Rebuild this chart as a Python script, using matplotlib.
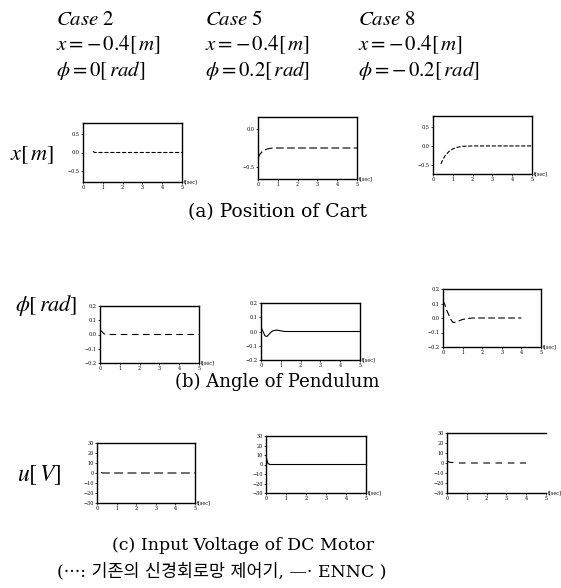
import matplotlib
matplotlib.use("Agg")
import matplotlib.pyplot as plt

plt.rcParams['font.family'] = ['DejaVu Serif', 'Noto Sans CJK KR']
plt.rcParams['mathtext.fontset'] = 'stix'

W, H = 561, 588

# case headers
case_names = ["Case 2", "Case 5", "Case 8"]
case_x0 = ["-0.4", "-0.4", "-0.4"]
case_phi0 = ["0", "0.2", "-0.2"]

# time samples [sec]
t = [0.0, 0.1, 0.2, 0.3, 0.4, 0.5, 0.6, 0.8, 1.0, 1.2, 1.5, 2.0, 2.5, 3.0, 3.5, 4.0, 4.5, 5.0]

# (a) position of cart [m]
x_case2 = [None, None, None, None, None, 0.03, 0.0, 0.0, 0.0, 0.0, 0.0, 0.0, 0.0, 0.0, 0.0, 0.0, 0.0, 0.0]
x_case5 = [-0.38, -0.33, -0.30, -0.28, -0.27, -0.26, -0.255, -0.25, -0.25, -0.25, -0.25, -0.25, -0.25, -0.25, -0.25, -0.25, -0.25, -0.25]
x_case8 = [None, None, None, None, -0.48, -0.36, -0.27, -0.15, -0.08, -0.04, -0.01, 0.0, 0.0, 0.0, 0.0, 0.0, 0.0, 0.0]

# (b) angle of pendulum [rad]
phi_case2 = [0.03, 0.02, 0.005, 0.0, 0.0, 0.0, 0.0, 0.0, 0.0, 0.0, 0.0, 0.0, 0.0, 0.0, 0.0, 0.0, 0.0, 0.0]
phi_case5 = [0.03, 0.0, -0.03, -0.035, -0.02, -0.005, 0.005, 0.01, 0.005, 0.0, 0.0, 0.0, 0.0, 0.0, 0.0, 0.0, 0.0, 0.0]
phi_case8 = [0.12, 0.09, 0.05, 0.02, -0.01, -0.03, -0.03, -0.02, -0.01, -0.005, 0.0, 0.0, 0.0, 0.0, 0.0, 0.0, None, None]

# (c) input voltage [V]
u_case2 = [None, None, 0.5, 0.0, 0.0, 0.0, 0.0, 0.0, 0.0, 0.0, 0.0, 0.0, 0.0, 0.0, 0.0, 0.0, 0.0, 0.0]
u_case5 = [8.0, 1.0, 0.0, 0.0, 0.0, 0.0, 0.0, 0.0, 0.0, 0.0, 0.0, 0.0, 0.0, 0.0, 0.0, 0.0, 0.0, 0.0]
u_case8 = [2.0, 1.0, 0.5, 0.5, 0.0, 0.0, 0.0, 0.0, 0.0, 0.0, 0.0, 0.0, 0.0, 0.0, 0.0, 0.0, None, None]

rows = [
    [x_case2, x_case5, x_case8],
    [phi_case2, phi_case5, phi_case8],
    [u_case2, u_case5, u_case8],
]
ylims = [
    [(-0.8, 0.8), (-0.65, 0.15), (-0.75, 0.8)],
    [(-0.2, 0.2), (-0.2, 0.2), (-0.2, 0.2)],
    [(-30, 30), (-30, 30), (-30, 30)],
]
yticks = [
    [[-0.5, 0, 0.5], [-0.5, 0], [-0.5, 0, 0.5]],
    [[-0.2, -0.1, 0, 0.1, 0.2]] * 3,
    [[-30, -20, -10, 0, 10, 20, 30]] * 3,
]
styles = [
    ["--", (0, (7, 3)), "--"],
    [(0, (6, 4)), "-", (0, (6, 3))],
    [(0, (8, 4)), "-", (0, (6, 5))],
]
# axes boxes in pixels: left, top, right, bottom
boxes = [
    [(83, 123, 182, 182), (258, 117, 357, 179), (433, 116, 532, 174)],
    [(100, 306, 199, 363), (261, 303, 360, 360), (443, 289, 541, 347)],
    [(97, 443, 195, 503), (266, 436, 366, 493), (447, 433, 546, 493)],
]

fig = plt.figure(figsize=(W / 100, H / 100), dpi=100)


def px(x, y):
    return x / W, 1 - y / H


for r in range(3):
    for c in range(3):
        l, tp, rt, bt = boxes[r][c]
        ax = fig.add_axes([l / W, 1 - bt / H, (rt - l) / W, (bt - tp) / H])
        tt = [a for a, b in zip(t, rows[r][c]) if b is not None]
        vv = [b for b in rows[r][c] if b is not None]
        ax.plot(tt, vv, color="black", lw=0.8, linestyle=styles[r][c])
        ax.set_xlim(0, 5)
        ax.set_ylim(*ylims[r][c])
        ax.set_xticks([0, 1, 2, 3, 4, 5])
        ax.set_yticks(yticks[r][c])
        ax.tick_params(labelsize=3.5, length=1.5, width=0.5, pad=1)
        for s in ax.spines.values():
            s.set_linewidth(1.0)
        if r == 2 and c == 2:
            ax.spines["right"].set_visible(False)
        ax.text(1.02, 0.0, "t[sec]", transform=ax.transAxes, fontsize=3.5,
                va="center", ha="left")

# header text
for i, cx in enumerate([56, 205, 358]):
    fig.text(*px(cx, 20), "$Case$ " + case_names[i].split()[1], fontsize=15, va="center",
             family="STIXGeneral")
    fig.text(*px(cx, 45), "$x = " + case_x0[i].replace("-", "-\\,") + "[\\,m]$",
             fontsize=15, va="center")
    fig.text(*px(cx, 71), "$\\phi = " + case_phi0[i].replace("-", "-\\,") + "[\\,rad]$",
             fontsize=15, va="center")

# row labels
fig.text(*px(10, 155), "$x[\\,m]$", fontsize=16, va="center")
fig.text(*px(15, 305), "$\\phi[\\,rad]$", fontsize=16, va="center")
fig.text(*px(17, 475), "$u[\\,V]$", fontsize=17, va="center")

# captions
fig.text(*px(278, 212), "(a) Position of Cart", fontsize=13.5, ha="center", va="center")
fig.text(*px(277, 382), "(b) Angle of Pendulum", fontsize=13, ha="center", va="center")
fig.text(*px(243, 545), "(c) Input Voltage of DC Motor", fontsize=12.5, ha="center", va="center")
fig.text(*px(222, 572), "(···: 기존의 신경회로망 제어기, —· ENNC )", fontsize=12.5,
         ha="center", va="center")

fig.savefig("out.png", dpi=100)
